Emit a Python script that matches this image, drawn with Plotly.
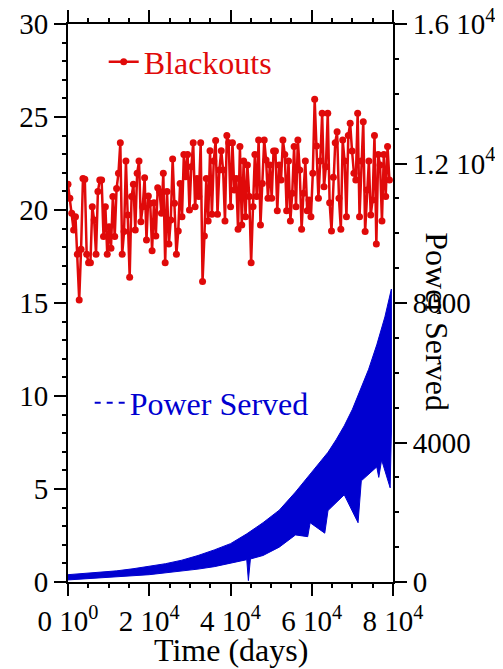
import plotly.graph_objects as go

# ---------------- data ----------------
# Blackouts (left axis), evenly sampled in time
blackouts = [
    21.38, 20.63, 19.82, 18.92, 19.64, 17.62, 15.16, 17.89, 21.70, 21.65,
    17.62, 17.17, 17.17, 20.18, 19.46, 17.62, 20.99, 21.61, 21.61, 18.57,
    20.18, 17.62, 19.10, 17.94, 20.72, 18.57, 21.16, 21.97, 23.62, 17.62,
    18.84, 22.63, 19.73, 16.38, 20.72, 21.38, 18.92, 21.97, 22.63, 19.37,
    20.18, 21.74, 18.39, 20.75, 20.36, 17.81, 20.39, 18.60, 21.20, 20.99,
    19.82, 21.97, 17.17, 20.99, 18.17, 19.46, 22.74, 20.36, 17.62, 18.87,
    21.43, 19.64, 22.99, 21.79, 22.99, 20.00, 22.33, 23.62, 20.18, 21.70,
    20.72, 23.62, 16.15, 18.60, 21.70, 19.41, 23.19, 19.77, 22.63, 23.73,
    19.77, 22.15, 23.19, 22.15, 19.41, 24.00, 23.62, 20.18,
    23.62, 21.08, 21.70, 18.96, 23.41, 19.19, 22.63, 19.64, 22.42, 20.72,
    17.17, 20.18, 22.99, 20.72, 23.76, 19.19, 21.43, 23.76, 22.69, 20.63,
    22.42, 20.63, 23.17, 23.17, 19.96, 22.42, 21.61, 23.76, 22.99, 19.96,
    22.63, 19.41, 20.90, 23.41, 20.18, 23.76, 22.15, 18.96, 20.90, 22.63,
    19.96, 20.54, 19.64, 21.97, 25.95, 23.44, 20.63, 22.63, 25.20, 21.25,
    22.33, 25.20, 20.39, 18.87, 21.76, 23.62, 24.21, 20.63, 18.96, 23.76,
    22.63, 19.64, 24.00, 24.66, 23.17, 21.97, 21.61, 25.20, 19.64, 22.63,
    24.75, 18.84, 21.08, 22.63, 19.73, 20.54, 24.00, 18.17, 22.99, 22.42,
    19.41, 22.99, 20.72, 23.41, 21.61,
]
blackout_step = 460  # days between samples
blackout_days = [i * blackout_step for i in range(len(blackouts))]

# Power served (right axis): upper envelope
power_hi_days = [0, 4000, 8000, 12000, 16000, 20000, 24000, 28000, 32000, 36000,
                 40000, 44000, 48000, 52000, 56000, 60000, 62000, 64000, 66000,
                 68000, 70000, 72000, 74000, 76000, 78000, 79600]
power_hi = [210, 240, 275, 320, 380, 445, 525, 625, 760, 920,
            1100, 1380, 1700, 2060, 2580, 3150, 3430, 3720, 4080,
            4480, 4950, 5500, 6100, 6800, 7600, 8400]

# Power served: lower envelope (with dips)
power_lo_days = [0, 4000, 8000, 12000, 16000, 20000, 24000, 28000, 32000, 36000,
                 40000, 44000, 44400, 44900, 48000, 52000, 56000, 59000, 59600,
                 63200, 64000, 68000, 71400, 72200, 76000, 76500, 77200, 79300,
                 79600]
power_lo = [60, 90, 120, 150, 180, 210, 260, 310, 370, 440,
            540, 640, 40, 660, 760, 1000, 1350, 1300, 1700,
            1400, 2050, 2500, 1700, 2900, 3300, 3000, 3500, 2700,
            4300]

x_tickvals = [0, 20000, 40000, 60000, 80000]
x_ticktext = ["0 10<sup>0</sup>", "2 10<sup>4</sup>", "4 10<sup>4</sup>",
              "6 10<sup>4</sup>", "8 10<sup>4</sup>"]
y_tickvals = [0, 5, 10, 15, 20, 25, 30]
y2_tickvals = [0, 4000, 8000, 12000, 16000]
y2_ticktext = ["0", "4000", "8000", "1.2 10<sup>4</sup>", "1.6 10<sup>4</sup>"]

RED = "#e00a0a"
BLUE = "#0000d0"
FONT = "Liberation Serif"

fig = go.Figure()

# power band (polygon: upper envelope forward, lower envelope back)
fig.add_trace(go.Scatter(
    x=power_hi_days + power_lo_days[::-1],
    y=power_hi + power_lo[::-1],
    mode="lines", fill="toself", fillcolor=BLUE,
    line=dict(color=BLUE, width=1),
    yaxis="y2", showlegend=False, hoverinfo="skip",
))
# legend entry for power served
fig.add_trace(go.Scatter(
    x=[None], y=[None], mode="lines", name="Power Served",
    line=dict(color=BLUE, width=2, dash="6px,6px"),
    yaxis="y2", legend="legend2",
))

fig.add_trace(go.Scatter(
    x=blackout_days, y=blackouts, mode="lines+markers", name="Blackouts",
    line=dict(color=RED, width=2.5),
    marker=dict(color=RED, size=7),
    yaxis="y", legend="legend",
))

axis_common = dict(
    showline=True, linecolor="black", linewidth=2,
    ticks="outside", ticklen=12, tickwidth=2, tickcolor="black",
    showgrid=False, zeroline=False, automargin=False,
    ticklabeloverflow="allow",
    tickfont=dict(family=FONT, size=29, color="black"),
)

# the page body has an 8px margin, so the figure is 8px smaller and offsets reduced
fig.update_layout(
    width=495, height=661,
    margin=dict(l=60, r=110, t=16, b=87, autoexpand=False),
    paper_bgcolor="white", plot_bgcolor="white",
    font=dict(family=FONT, size=29, color="black"),
    xaxis=dict(
        range=[0, 80000], tickmode="array", tickvals=x_tickvals, ticktext=x_ticktext,
        mirror="ticks",
        minor=dict(dtick=5000, ticklen=4, tickwidth=2, ticks="outside", tickcolor="black"),
        **axis_common,
    ),
    yaxis=dict(
        range=[0, 30], tickmode="array", tickvals=y_tickvals,
        minor=dict(dtick=1, ticklen=4, tickwidth=2, ticks="outside", tickcolor="black"),
        **axis_common,
    ),
    yaxis2=dict(
        range=[0, 16000], overlaying="y", side="right", anchor="x",
        tickmode="array", tickvals=y2_tickvals, ticktext=y2_ticktext,
        minor=dict(dtick=1000, ticklen=4, tickwidth=2, ticks="outside", tickcolor="black"),
        **axis_common,
    ),
    legend=dict(
        x=(104 - 68.3) / 325, y=(582 - 62) / 558, xanchor="left", yanchor="middle",
        bgcolor="rgba(0,0,0,0)", font=dict(family=FONT, size=32, color=RED),
        itemwidth=30,
    ),
    legend2=dict(
        x=(90 - 68.3) / 325, y=(582 - 403) / 558, xanchor="left", yanchor="middle",
        bgcolor="rgba(0,0,0,0)", font=dict(family=FONT, size=32, color=BLUE),
        itemwidth=30,
    ),
    annotations=[
        dict(text="Time (days)", xref="paper", yref="paper", x=0.5, y=(582 - 650) / 558,
             xanchor="center", yanchor="middle", showarrow=False,
             font=dict(family=FONT, size=32, color="black")),
        dict(text="Power Served", xref="paper", yref="paper", x=(437 - 68.3) / 325,
             y=(582 - 322) / 558, xanchor="center", yanchor="middle", showarrow=False,
             textangle=90, font=dict(family=FONT, size=32, color="black")),
    ],
)

fig.write_html("out.html")
